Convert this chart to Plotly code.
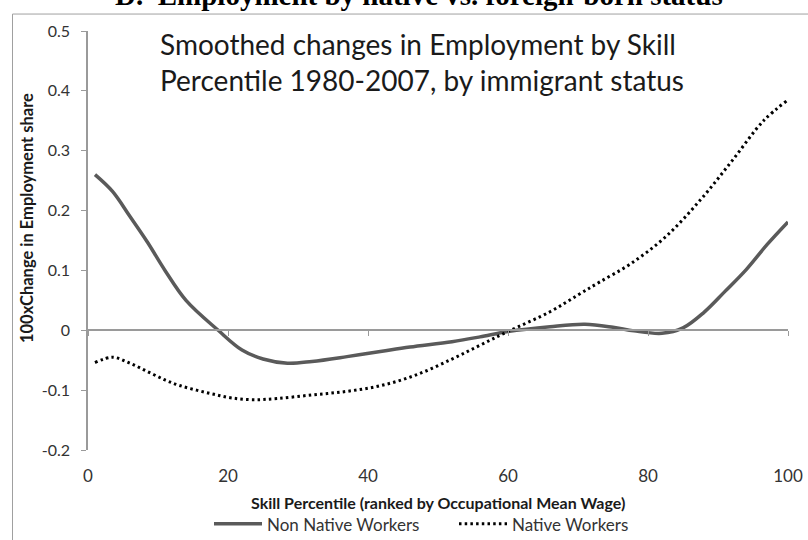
import plotly.graph_objects as go

# Skill percentile positions and smoothed employment-share changes
non_native_x = [1, 3.5, 6, 8.5, 11, 14, 18.6, 22, 25, 28.5, 32, 37, 42, 46, 52, 56,
                60, 66, 71, 75, 78, 82, 85, 88, 91, 94, 97, 100]
non_native_y = [0.26, 0.232, 0.19, 0.147, 0.10, 0.05, 0.0, -0.033, -0.048, -0.055,
                -0.052, -0.044, -0.035, -0.028, -0.019, -0.011, -0.002, 0.006, 0.010,
                0.005, -0.001, -0.005, 0.004, 0.030, 0.065, 0.101, 0.143, 0.181]

native_x = [1, 3.5, 6, 8.5, 11, 13, 15.5, 18, 20.5, 23.5, 27, 32, 37, 42, 47, 52,
            56, 60, 66, 70, 73, 77.5, 82.5, 87.5, 92, 96.5, 100]
native_y = [-0.054, -0.045, -0.055, -0.069, -0.083, -0.092, -0.100, -0.107, -0.113,
            -0.116, -0.114, -0.108, -0.102, -0.092, -0.074, -0.048, -0.025,
            -0.002, 0.031, 0.059, 0.080, 0.111, 0.156, 0.218, 0.283, 0.350, 0.385]

y_tickvals = [0.5, 0.4, 0.3, 0.2, 0.1, 0, -0.1, -0.2]
y_ticktext = ["0.5", "0.4", "0.3", "0.2", "0.1", "0", "-0.1", "-0.2"]
x_tickvals = [0, 20, 40, 60, 80, 100]
x_ticktext = ["0", "20", "40", "60", "80", "100"]

Y_MIN, Y_MAX = -0.2, 0.5
AXIS_GRAY = "#9a9a9a"
LABEL_FONT = "Lato"

px_to_y = lambda p: (450.5 - p) / 420.0
px_to_x = lambda p: (p - 88) / 700.0

fig = go.Figure()
fig.add_trace(go.Scatter(
    x=non_native_x, y=non_native_y, mode="lines", name="Non Native Workers",
    line=dict(color="#5a5a5a", width=3.5, shape="spline", smoothing=1.0),
))
fig.add_trace(go.Scatter(
    x=native_x, y=native_y, mode="lines", name="Native Workers",
    line=dict(color="#000000", width=3, dash="2.5px,3.2px", shape="spline", smoothing=1.0),
))
# empty trace so the axis drawn through y = 0 gets rendered
fig.add_trace(go.Scatter(x=[None], y=[None], xaxis="x2", showlegend=False,
                         hoverinfo="skip"))

zero_pos = (0 - Y_MIN) / (Y_MAX - Y_MIN)

fig.update_layout(
    width=808, height=540,
    margin=dict(l=88, r=20, t=30.5, b=89.5, autoexpand=False),
    paper_bgcolor="white", plot_bgcolor="white",
    showlegend=True,
    legend=dict(orientation="h", x=px_to_x(209), xanchor="left",
                y=px_to_y(525), yanchor="middle",
                font=dict(family=LABEL_FONT, size=17, color="#333333"),
                itemwidth=48, entrywidth=182, entrywidthmode="pixels",
                traceorder="normal"),
    xaxis=dict(range=[0, 100], tickvals=x_tickvals, ticktext=x_ticktext,
               showline=False, showgrid=False, zeroline=False, ticks="",
               ticklabelstandoff=14, automargin=False,
               tickfont=dict(family=LABEL_FONT, size=17, color="#333333")),
    xaxis2=dict(range=[0, 100], overlaying="x", anchor="free", position=zero_pos,
                side="bottom", tickvals=x_tickvals, showticklabels=False,
                showline=True, linecolor=AXIS_GRAY, linewidth=1.5, automargin=False,
                ticks="outside", ticklen=5, tickcolor=AXIS_GRAY, showgrid=False,
                zeroline=False),
    yaxis=dict(range=[Y_MIN, Y_MAX], tickvals=y_tickvals, ticktext=y_ticktext,
               showline=True, linecolor=AXIS_GRAY, linewidth=1.5, automargin=False,
               ticks="outside", ticklen=5, tickcolor=AXIS_GRAY,
               showgrid=False, zeroline=False, ticklabelstandoff=8,
               tickfont=dict(family=LABEL_FONT, size=16, color="#333333")),
)

annotations = [
    dict(text="<b>D.  Employment by native vs. foreign-born status</b>",
         x=px_to_x(419), y=px_to_y(12), xanchor="center", yanchor="bottom",
         font=dict(family="Liberation Serif", size=29, color="#000000")),
    dict(text="Smoothed changes in Employment by Skill<br>Percentile 1980-2007, by immigrant status",
         x=px_to_x(158), y=px_to_y(62), xanchor="left", yanchor="middle", align="left",
         font=dict(family=LABEL_FONT, size=28, color="#1a1a1a")),
    dict(text="<b>100xChange in Employment share</b>",
         x=px_to_x(27), y=px_to_y(218), textangle=-90, xanchor="center", yanchor="middle",
         font=dict(family=LABEL_FONT, size=16.5, color="#1a1a1a")),
    dict(text="<b>Skill Percentile (ranked by Occupational Mean Wage)</b>",
         x=px_to_x(438), y=px_to_y(503), xanchor="center", yanchor="middle",
         font=dict(family=LABEL_FONT, size=16, color="#1a1a1a")),
]
for a in annotations:
    a.update(xref="paper", yref="paper", showarrow=False)
fig.update_layout(annotations=annotations)

# outer chart frame
fig.add_shape(type="rect", xref="paper", yref="paper",
              x0=px_to_x(12.5), x1=px_to_x(830), y0=px_to_y(560), y1=px_to_y(13.5),
              line=dict(color="#a0a0a0", width=1), fillcolor="rgba(0,0,0,0)", layer="below")

fig.write_html("out.html")
